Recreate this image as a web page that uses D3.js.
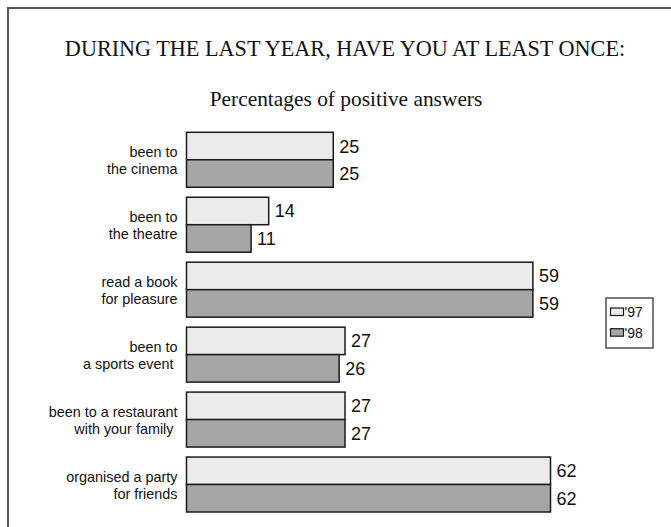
<!DOCTYPE html>
<html><head><meta charset="utf-8">
<script src="https://cdn.jsdelivr.net/npm/d3@7"></script>
<style>body{margin:0;background:#fff}svg{display:block}text{white-space:pre}</style>
</head><body>
<script>
const categories = [
  ["been to", "the cinema"],
  ["been to", "the theatre"],
  ["read a book", "for pleasure"],
  ["been to", "a sports event "],
  ["been to a restaurant", "with your family "],
  ["organised a party", "for friends"]
];
const seriesNames = ["'97", "'98"];
const values97 = [25, 14, 59, 27, 27, 62];
const values98 = [25, 11, 59, 26, 27, 62];
const title = "DURING THE LAST YEAR, HAVE YOU AT LEAST ONCE:";
const subtitle = "Percentages of positive answers";

const W = 671, H = 527;
const colors = ["#ebebeb", "#a6a6a6"];
const svg = d3.select("body").append("svg").attr("width", W).attr("height", H);

svg.append("rect").attr("x", 8).attr("y", 8).attr("width", 720).attr("height", 600)
  .attr("fill", "none").attr("stroke", "#555").attr("stroke-width", 2);

svg.append("text").attr("x", 345).attr("y", 56).attr("text-anchor", "middle")
  .attr("font-family", "Liberation Serif, Times New Roman, serif").attr("font-size", 22.2)
  .attr("fill", "#111").text(title);
svg.append("text").attr("x", 346).attr("y", 106).attr("text-anchor", "middle")
  .attr("font-family", "Liberation Serif, Times New Roman, serif").attr("font-size", 21.4)
  .attr("fill", "#111").text(subtitle);

const idx = d3.range(categories.length);
const y = d3.scaleBand().domain(idx).range([132.3, 512]).paddingInner(10/65).paddingOuter(0);
const ys = d3.scaleBand().domain([0, 1]).range([0, y.bandwidth()]);
const x = d3.scaleLinear().domain([0, 62]).range([186.5, 550.5]);

const data = idx.map(i => ({i, vals: [values97[i], values98[i]]}));
const g = svg.selectAll("g.grp").data(data).join("g").attr("class", "grp")
  .attr("transform", d => `translate(0,${y(d.i)})`);

g.selectAll("rect").data(d => d.vals.map((v, k) => ({v, k}))).join("rect")
  .attr("x", x(0)).attr("y", d => ys(d.k))
  .attr("width", d => x(d.v) - x(0)).attr("height", ys.bandwidth())
  .attr("fill", d => colors[d.k]).attr("stroke", "#1a1a1a").attr("stroke-width", 1.5);

g.selectAll("text.val").data(d => d.vals.map((v, k) => ({v, k}))).join("text")
  .attr("class", "val").attr("x", d => x(d.v) + 6).attr("y", d => ys(d.k) + ys.bandwidth()/2)
  .attr("dy", "0.36em").attr("font-family", "Liberation Sans, Arial, sans-serif")
  .attr("font-size", 18).attr("fill", "#111").text(d => d.v);

g.append("text").attr("text-anchor", "end")
  .attr("font-family", "Liberation Sans, Arial, sans-serif").attr("font-size", 14.4).attr("fill", "#111")
  .selectAll("tspan").data(d => categories[d.i]).join("tspan")
  .attr("x", 177.5).attr("y", (k, j) => j === 0 ? 24.5 : 42).text(d => d);

// legend
const lg = svg.append("g").attr("transform", "translate(606,298)");
lg.append("rect").attr("width", 47).attr("height", 50).attr("fill", "#fff")
  .attr("stroke", "#222").attr("stroke-width", 1.2);
seriesNames.forEach((s, k) => {
  lg.append("rect").attr("x", 4.5).attr("y", 10 + k*20.7).attr("width", 13).attr("height", 7.5)
    .attr("fill", colors[k]).attr("stroke", "#1a1a1a").attr("stroke-width", 1.2);
  lg.append("text").attr("x", 18.5).attr("y", 18.7 + k*21.3)
    .attr("font-family", "Liberation Sans, Arial, sans-serif").attr("font-size", 14)
    .attr("fill", "#111").text(s);
});
</script>
</body></html>
